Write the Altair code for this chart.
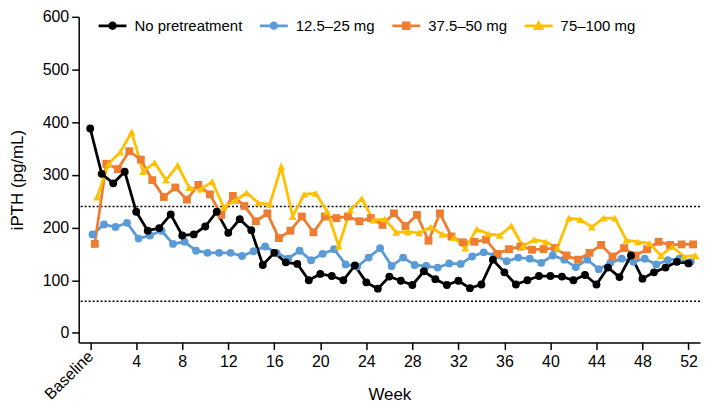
import altair as alt
import pandas as pd

weeks = list(range(53))
series_names = ["No pretreatment", "12.5–25 mg", "37.5–50 mg", "75–100 mg"]
series_colors = ["#000000", "#5B9BD5", "#ED7D31", "#FFC000"]
series_shapes = ["circle", "circle", "square", "triangle-up"]

no_pretreatment = [388, 302, 284, 306, 230, 194, 199, 225, 185, 187,
                   202, 230, 190, 216, 195, 129, 152, 134, 131, 100,
                   112, 108, 100, 128, 96, 84, 107, 99, 91, 117,
                   102, 91, 99, 85, 92, 139, 115, 92, 100, 108,
                   108, 107, 100, 110, 92, 124, 106, 147, 103, 115,
                   124, 135, 132]
mg_12_25 = [187, 206, 201, 209, 179, 185, 194, 169, 173, 156,
            152, 152, 152, 146, 155, 164, 152, 141, 156, 138,
            150, 159, 130, 126, 143, 161, 127, 143, 129, 127,
            124, 132, 131, 145, 153, 147, 136, 143, 141, 133,
            147, 139, 125, 139, 121, 133, 141, 135, 141, 130,
            138, 141, 135]
mg_37_50 = [169, 321, 311, 345, 329, 290, 258, 276, 253, 281,
            263, 224, 260, 241, 212, 227, 180, 194, 221, 191,
            221, 218, 221, 212, 218, 205, 227, 203, 224, 175,
            227, 183, 172, 173, 177, 150, 159, 164, 158, 159,
            161, 147, 139, 152, 167, 145, 161, 147, 159, 173,
            167, 168, 168]
mg_75_100 = [258, 321, 343, 381, 306, 323, 290, 318, 276, 273,
             287, 239, 251, 266, 247, 244, 315, 221, 263, 265,
             230, 165, 233, 255, 214, 216, 191, 192, 190, 201,
             187, 181, 161, 197, 188, 185, 203, 165, 177, 173,
             161, 218, 215, 201, 218, 218, 176, 173, 170, 147,
             164, 145, 147]

x_tick_values = [0, 4, 8, 12, 16, 20, 24, 28, 32, 36, 40, 44, 48, 52]
baseline_label = "Baseline"
y_tick_values = [0, 100, 200, 300, 400, 500, 600]
target_lines = [60, 240]

series_values = [no_pretreatment, mg_12_25, mg_37_50, mg_75_100]
draw_order = [1, 2, 3, 0]
rows = []
for idx in draw_order:
    for w, v in zip(weeks, series_values[idx]):
        rows.append({"week": w, "iPTH": v, "series": series_names[idx], "order": idx})
df = pd.DataFrame(rows)

FONT = "Liberation Sans"

x_scale = alt.Scale(domain=[-1, 53], nice=False, zero=False)
y_scale = alt.Scale(domain=[-18, 600], nice=False, zero=False)
color_scale = alt.Scale(domain=series_names, range=series_colors)
# reversed order so these (legend-less) scales do not merge with the colour legend
stroke_scale = alt.Scale(domain=series_names[::-1], range=series_colors[::-1])
shape_scale = alt.Scale(domain=series_names[::-1], range=series_shapes[::-1])

x_axis = alt.Axis(
    values=x_tick_values, title="Week",
    labelExpr=f"datum.value == 0 ? '{baseline_label}' : datum.label",
    labelAngle={"expr": "datum.value == 0 ? -45 : 0"},
    labelAlign={"expr": "datum.value == 0 ? 'right' : 'center'"},
    labelBaseline={"expr": "datum.value == 0 ? 'middle' : 'top'"},
    labelPadding=4, titleY=44,
)
y_axis = alt.Axis(values=y_tick_values, title="iPTH (pg/mL)", titlePadding=16, labelPadding=3)

x_enc = alt.X("xpos:Q", scale=x_scale, axis=x_axis)
y_enc = alt.Y("iPTH:Q", scale=y_scale, axis=y_axis)

base = alt.Chart(df).transform_calculate(xpos="datum.week + 0.2 * datum.order")

line_path = "M-1,-0.1H1V0.1H-1Z"
circle_path = line_path + "M0.3,0A0.3,0.3 0 1,1 -0.3,0A0.3,0.3 0 1,1 0.3,0Z"
square_path = line_path + "M-0.3,-0.3H0.3V0.3H-0.3Z"
tri_path = line_path + "M0,-0.42L0.4,0.3L-0.4,0.3Z"
sym_expr = (f"datum.value === '{series_names[2]}' ? '{square_path}' : "
            f"datum.value === '{series_names[3]}' ? '{tri_path}' : '{circle_path}'")

legend = alt.Legend(
    title=None, orient="none", legendX=20, legendY=-5, direction="horizontal",
    columns=4, symbolType={"expr": sym_expr}, symbolSize=784, symbolStrokeWidth=0,
    symbolOpacity=1, labelFont=FONT, labelFontSize=15, labelColor="black",
    labelOffset=8, columnPadding=17, padding=0, symbolOffset=0, labelLimit=300,
)

lines = base.mark_line(strokeWidth=2.8).encode(
    x=x_enc, y=y_enc,
    stroke=alt.Stroke("series:N", scale=stroke_scale, legend=None),
)
points = base.mark_point(filled=True, opacity=1, size=62).encode(
    x=x_enc, y=y_enc,
    color=alt.Color("series:N", scale=color_scale, legend=legend),
    shape=alt.Shape("series:N", scale=shape_scale, legend=None),
)
rules = alt.Chart(pd.DataFrame({"iPTH": target_lines})).mark_rule(
    strokeDash=[2, 2], strokeWidth=1.5, color="black"
).encode(y=y_enc)

chart = alt.layer(rules, lines, points).properties(
    width=624, height=327,
    padding={"left": 0, "top": 0, "right": 0, "bottom": 0},
).configure_view(stroke=None).configure_axis(
    grid=False, domainColor="black", domainWidth=1.5, tickColor="black",
    tickWidth=1.5, tickSize=7, labelFont=FONT, labelFontSize=16,
    labelColor="black", titleFont=FONT, titleFontSize=17, titleColor="black",
    titleFontWeight="normal", labelOverlap=False, labelFlush=False, labelBound=False,
)

chart.save("out.html", embed_options={"renderer": "svg", "actions": False})
